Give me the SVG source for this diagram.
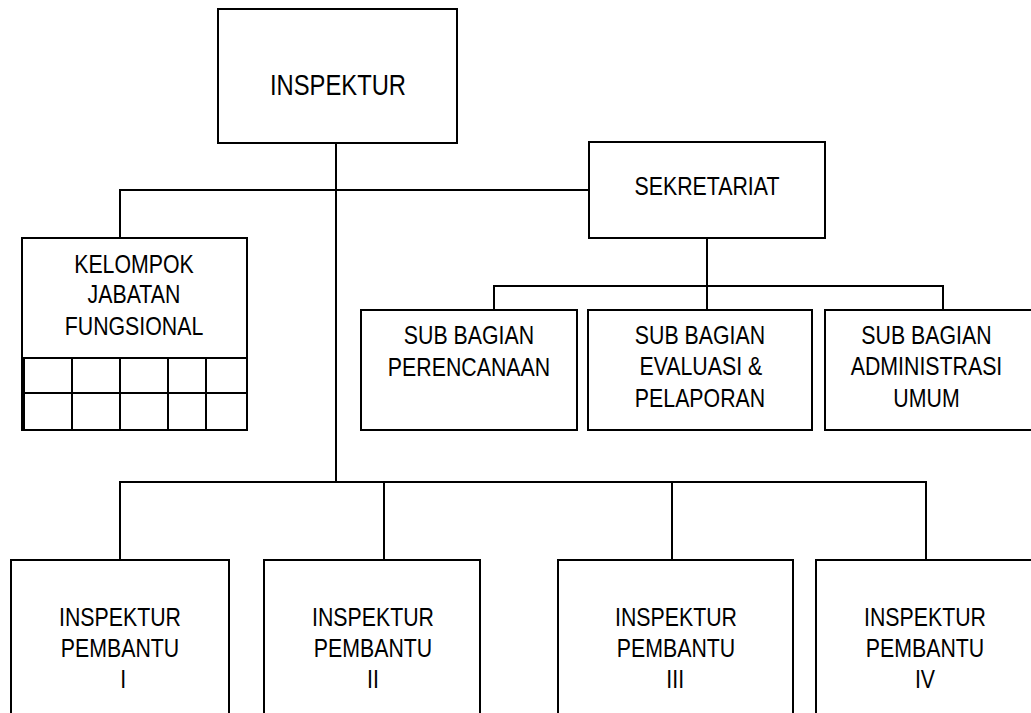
<svg xmlns="http://www.w3.org/2000/svg" width="1031" height="713" viewBox="0 0 1031 713">
<style>
.box{fill:#fff;stroke:#000;stroke-width:2}
.ln{fill:none;stroke:#000;stroke-width:2}
text{font-family:"Liberation Sans",Arial,sans-serif;font-size:26px;fill:#000;text-anchor:middle}
.big{font-size:29px}
</style>
<rect width="1031" height="713" fill="#fff"/>
<g id="connectors">
<path class="ln" d="M336 143V482"/>
<path class="ln" d="M120 238V190H589"/>
<path class="ln" d="M707 238V310"/>
<path class="ln" d="M494 310V286H943V310"/>
<path class="ln" d="M120 560V482H926V560"/>
<path class="ln" d="M384 482V560"/>
<path class="ln" d="M672 482V560"/>
</g>
<g id="inspektur">
<rect class="box" x="218" y="9" width="239" height="134"/>
<g transform="translate(338,0) scale(0.82,1)"><text class="big" x="0" y="95">INSPEKTUR</text></g>
</g>
<g id="sekretariat">
<rect class="box" x="589" y="142" width="236" height="96"/>
<g transform="translate(707,0) scale(0.82,1)"><text x="0" y="195">SEKRETARIAT</text></g>
</g>
<g id="kelompok">
<rect class="box" x="22" y="238" width="225" height="192"/>
<path class="ln" d="M22 358H247M22 393H247M24 358V430M72 358V430M120 358V430M168 358V430M206 358V430"/>
<g transform="translate(134,0) scale(0.82,1)">
<text x="0" y="273">KELOMPOK</text>
<text x="0" y="303">JABATAN</text>
<text x="0" y="335">FUNGSIONAL</text>
</g>
</g>
<g id="sub-perencanaan">
<rect class="box" x="361" y="310" width="216" height="120"/>
<g transform="translate(469,0) scale(0.82,1)">
<text x="0" y="344">SUB BAGIAN</text>
<text x="0" y="376">PERENCANAAN</text>
</g>
</g>
<g id="sub-evaluasi">
<rect class="box" x="588" y="310" width="224" height="120"/>
<g transform="translate(700,0) scale(0.82,1)">
<text x="0" y="344">SUB BAGIAN</text>
<text x="1" y="375">EVALUASI &amp;</text>
<text x="0" y="407">PELAPORAN</text>
</g>
</g>
<g id="sub-administrasi">
<rect class="box" x="825" y="310" width="220" height="120"/>
<g transform="translate(926.5,0) scale(0.82,1)">
<text x="0" y="344">SUB BAGIAN</text>
<text x="0" y="375">ADMINISTRASI</text>
<text x="0" y="407">UMUM</text>
</g>
</g>
<g id="inspektur-pembantu-1">
<rect class="box" x="11" y="560" width="218" height="170"/>
<g transform="translate(120,0) scale(0.82,1)">
<text x="0" y="626">INSPEKTUR</text>
<text x="0" y="657">PEMBANTU</text>
<text x="4" y="688">I</text>
</g>
</g>
<g id="inspektur-pembantu-2">
<rect class="box" x="264" y="560" width="216" height="170"/>
<g transform="translate(373,0) scale(0.82,1)">
<text x="0" y="626">INSPEKTUR</text>
<text x="0" y="657">PEMBANTU</text>
<text x="0" y="688">II</text>
</g>
</g>
<g id="inspektur-pembantu-3">
<rect class="box" x="558" y="560" width="235" height="170"/>
<g transform="translate(676,0) scale(0.82,1)">
<text x="0" y="626">INSPEKTUR</text>
<text x="0" y="657">PEMBANTU</text>
<text x="-1" y="688">III</text>
</g>
</g>
<g id="inspektur-pembantu-4">
<rect class="box" x="816" y="560" width="230" height="170"/>
<g transform="translate(925,0) scale(0.82,1)">
<text x="0" y="626">INSPEKTUR</text>
<text x="0" y="657">PEMBANTU</text>
<text x="0" y="688">IV</text>
</g>
</g>
</svg>
